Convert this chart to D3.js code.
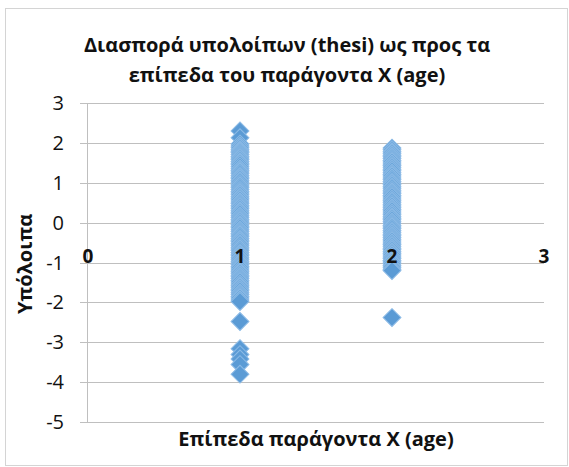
<!DOCTYPE html>
<html>
<head>
<meta charset="utf-8">
<script src="https://cdn.jsdelivr.net/npm/d3@7"></script>
<style>
  html, body { margin: 0; padding: 0; background: #fff; }
  svg { display: block; font-family: "Open Sans", "Noto Sans", sans-serif; }
</style>
</head>
<body>
<svg id="chart" width="569" height="467"></svg>
<script>
// ---- data ----
const titleLines = ["Διασπορά υπολοίπων (thesi) ως προς τα", "επίπεδα του παράγοντα X (age)"];
const xAxisTitle = "Επίπεδα παράγοντα X (age)";
const yAxisTitle = "Υπόλοιπα";
const xTicks = [0, 1, 2, 3];
const yTicks = [3, 2, 1, 0, -1, -2, -3, -4, -5];
const ageLevels = [1, 2];
const residualsAge1 = [2.30, 2.13, 1.97, 1.92, 1.88, 1.83, 1.79, 1.76, 1.71, 1.66, 1.62, 1.58, 1.53, 1.49,
  1.45, 1.40, 1.35, 1.31, 1.27, 1.23, 1.18, 1.14, 1.10, 1.05, 1.01, 0.96, 0.92, 0.88, 0.83, 0.78, 0.74,
  0.70, 0.65, 0.61, 0.57, 0.52, 0.48, 0.43, 0.39, 0.35, 0.30, 0.26, 0.22, 0.17, 0.13, 0.08, 0.04, 0.00,
  -0.05, -0.09, -0.13, -0.18, -0.22, -0.27, -0.31, -0.35, -0.40, -0.44, -0.48, -0.53, -0.57, -0.62,
  -0.66, -0.70, -0.75, -0.79, -0.83, -0.88, -0.92, -0.97, -1.01, -1.05, -1.10, -1.14, -1.19, -1.23,
  -1.27, -1.32, -1.36, -1.40, -1.45, -1.49, -1.54, -1.58, -1.62, -1.67, -1.71, -1.76, -1.80, -1.85,
  -1.89, -1.94, -1.98, -2.48, -3.16, -3.31, -3.42, -3.56, -3.80];
const residualsAge2 = [1.87, 1.83, 1.78, 1.74, 1.69, 1.65, 1.61, 1.56, 1.52, 1.47, 1.43, 1.39, 1.34,
  1.30, 1.25, 1.21, 1.17, 1.12, 1.08, 1.03, 0.99, 0.95, 0.90, 0.86, 0.81, 0.77, 0.73, 0.68, 0.64, 0.59,
  0.55, 0.51, 0.46, 0.42, 0.37, 0.33, 0.29, 0.24, 0.20, 0.15, 0.11, 0.07, 0.02, -0.02, -0.07, -0.11,
  -0.15, -0.20, -0.24, -0.29, -0.33, -0.37, -0.42, -0.46, -0.51, -0.55, -0.59, -0.64, -0.68, -0.73,
  -0.77, -0.81, -0.86, -0.90, -0.95, -0.99, -1.03, -1.08, -1.12, -1.17, -1.20, -2.38];

const points = [];
residualsAge1.forEach(v => points.push({x: ageLevels[0], y: v}));
residualsAge2.forEach(v => points.push({x: ageLevels[1], y: v}));

// ---- layout ----
const svg = d3.select("#chart");
const x = d3.scaleLinear().domain([0, 3]).range([88, 544]);
const y = d3.scaleLinear().domain([-5, 3]).range([422, 103]);

// chart frame
svg.append("rect").attr("x", 5.5).attr("y", 8.5).attr("width", 562).attr("height", 457)
  .attr("fill", "#fff").attr("stroke", "#d4d4d4").attr("stroke-width", 1);

// gridlines
svg.append("g").selectAll("line").data(yTicks).join("line")
  .attr("x1", 80).attr("x2", x(3))
  .attr("y1", d => Math.round(y(d)) + 0.5).attr("y2", d => Math.round(y(d)) + 0.5)
  .attr("stroke", "#bfbfbf").attr("stroke-width", 1);

// vertical axis line
svg.append("line").attr("x1", x(0) - 0.5).attr("x2", x(0) - 0.5)
  .attr("y1", y(3)).attr("y2", y(-5)).attr("stroke", "#bfbfbf");

// y tick labels
svg.append("g").selectAll("text").data(yTicks).join("text")
  .attr("x", 64).attr("y", d => y(d)).attr("dy", "0.35em")
  .attr("text-anchor", "end").attr("font-size", 20).attr("fill", "#111")
  .text(d => d);

// points
const sym = d3.symbol().type(d3.symbolSquare).size(160);
svg.append("g").selectAll("path").data(points).join("path")
  .attr("d", sym)
  .attr("transform", d => `translate(${x(d.x)},${y(d.y)}) rotate(45)`)
  .attr("fill", "#5b9bd5").attr("stroke", "#8dbbe6").attr("stroke-width", 1);

// x tick labels (sitting on the y=-1 line, as in the reference), drawn over the points
svg.append("g").selectAll("text").data(xTicks).join("text")
  .attr("x", d => x(d)).attr("y", y(-1))
  .attr("text-anchor", "middle").attr("font-size", 19).attr("font-weight", "bold").attr("fill", "#111")
  .text(d => d);

// title
svg.append("g").selectAll("text").data(titleLines).join("text")
  .attr("x", 287).attr("y", (d, i) => 52 + i * 30)
  .attr("text-anchor", "middle").attr("font-size", 20).attr("font-weight", "bold").attr("fill", "#111")
  .text(d => d);

// axis titles
svg.append("text").attr("x", 316).attr("y", 446)
  .attr("text-anchor", "middle").attr("font-size", 20).attr("font-weight", "bold").attr("fill", "#111")
  .text(xAxisTitle);
svg.append("text").attr("transform", "translate(32,264) rotate(-90)")
  .attr("text-anchor", "middle").attr("font-size", 20).attr("font-weight", "bold").attr("fill", "#111")
  .text(yAxisTitle);
</script>
</body>
</html>
